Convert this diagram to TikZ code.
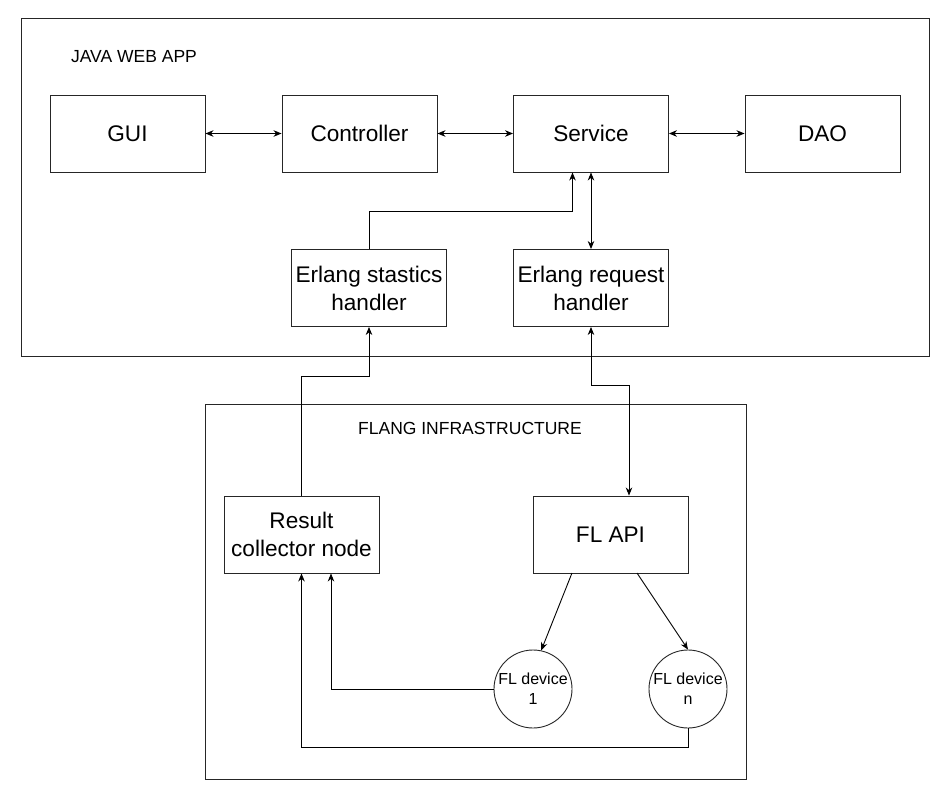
\documentclass[tikz,border=0pt]{standalone}
\usepackage{fontspec}
\setmainfont{Liberation Sans}
\usetikzlibrary{arrows.meta,calc}
\begin{document}
\begin{tikzpicture}[x=1pt,y=-1pt,
  box/.style={draw=black!85,line width=0.9pt,minimum width=155pt,minimum height=77pt,inner sep=0pt,align=center,font=\fontsize{22.6}{28}\selectfont},
  dev/.style={draw=black!85,line width=0.9pt,circle,minimum size=78pt,inner sep=0pt,align=center,font=\fontsize{16}{20}\selectfont},
  frame/.style={draw=black!85,line width=0.9pt},
  lbl/.style={font=\fontsize{17.5}{20}\selectfont,inner sep=0pt},
  conn/.style={line width=0.9pt,black},
  tip/.style={-{Stealth[length=8pt,width=6.5pt,inset=2.5pt]}},
  tips/.style={{Stealth[length=8pt,width=6.5pt,inset=2.5pt]}-{Stealth[length=8pt,width=6.5pt,inset=2.5pt]}}
]
\useasboundingbox (0,0) rectangle (946,795);
\fill[white] (0,0) rectangle (946,795);
% frames
\draw[frame] (21.5,18) rectangle (929,356);
\draw[frame] (205,404) rectangle (746,779);
\node[lbl] (javalbl) at (134,57) {JAVA WEB APP};
\node[lbl] (flanglbl) at (470,428) {FLANG INFRASTRUCTURE};
% top row
\node[box] (gui) at (127.5,133.5) {GUI};
\node[box] (ctrl) at (359.5,133.5) {Controller};
\node[box] (serv) at (591,133.5) {Service};
\node[box] (dao) at (822.5,133.5) {DAO};
% handlers
\node[box] (stat) at (369,288) {Erlang stastics\\handler};
\node[box] (req) at (591,288) {Erlang request\\handler};
% flang
\node[box] (res) at (301.5,534.5) {Result\\collector node};
\node[box] (api) at (610.5,534.5) {FL API};
\node[dev] (d1) at (533,689) {FL device\\1};
\node[dev] (dn) at (688,689) {FL device\\n};
% helper coordinates
\coordinate (k1) at (572.5,211);
\coordinate (k2) at (369,376);
\coordinate (k3) at (629,385);
\coordinate (k4) at (572,573);
\coordinate (k5) at (637,573);
\coordinate (k6) at (331,689);
\coordinate (k7) at (301.5,747);
% connectors
\draw[conn,tips] (gui.east) -- (ctrl.west);
\draw[conn,tips] (ctrl.east) -- (serv.west);
\draw[conn,tips] (serv.east) -- (dao.west);
\draw[conn,tip] (stat.north) |- (k1) -- (k1 |- serv.south);
\draw[conn,tips] (serv.south) -- (req.north);
\draw[conn,tip] (res.north) |- (k2) -- (stat.south);
\draw[conn,tips] (req.south) |- (k3) -- (k3 |- api.north);
\draw[conn,tip] (k4) -- (d1.78);
\draw[conn,tip] (k5) -- (dn.north);
\draw[conn,tip] (d1.west) -- (k6) -- (k6 |- res.south);
\draw[conn,tip] (dn.south) |- (k7) -- (res.south);
\end{tikzpicture}
\end{document}
